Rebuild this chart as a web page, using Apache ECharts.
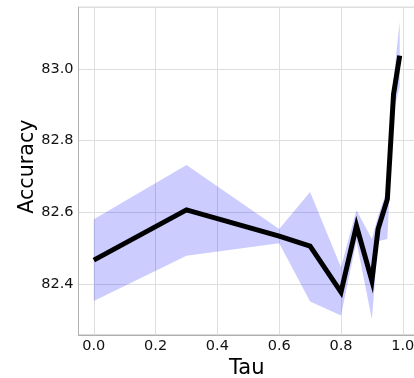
<!DOCTYPE html>
<html>
<head>
<meta charset="utf-8">
<script src="https://cdn.jsdelivr.net/npm/echarts@6/dist/echarts.min.js"></script>
<style>html,body{margin:0;padding:0;background:#fff;}#c{width:414px;height:378px;}</style>
</head>
<body>
<div id="c"></div>
<script>
const tau = [0.0, 0.3, 0.6, 0.7, 0.8, 0.85, 0.9, 0.92, 0.95, 0.97, 0.99];
const accMean = [82.467, 82.607, 82.534, 82.506, 82.378, 82.563, 82.41, 82.554, 82.637, 82.929, 83.037];
const accUpper = [82.581, 82.732, 82.554, 82.657, 82.447, 82.607, 82.526, 82.59, 82.665, 82.97, 83.132];
const accLower = [82.353, 82.479, 82.514, 82.352, 82.313, 82.52, 82.302, 82.52, 82.526, 82.88, 82.95];
const xTicks = [0.0, 0.2, 0.4, 0.6, 0.8, 1.0];
const yTicks = [82.4, 82.6, 82.8, 83.0];

const chart = echarts.init(document.getElementById('c'), null, {renderer: 'canvas'});
const font = 'DejaVu Sans';
const lineData = tau.map((t, i) => [t, accMean[i]]);

chart.setOption({
  animation: false,
  backgroundColor: '#fff',
  grid: {left: 78.5, top: 7.3, width: 336.5, height: 327.7, show: true, borderColor: '#b0b0b0', borderWidth: 1,
         containLabel: false, outerBoundsMode: 'none'},
  xAxis: {
    type: 'value', min: -0.0495, max: 1.0395,
    name: 'Tau', nameLocation: 'middle', nameGap: 23, nameMoveOverlap: false,
    nameTextStyle: {fontFamily: font, fontSize: 21, color: '#000', verticalAlign: 'top'},
    axisLine: {show: true, onZero: false, lineStyle: {color: '#b0b0b0', width: 1}},
    axisTick: {show: false},
    axisLabel: {
      fontFamily: font, fontSize: 14.5, color: '#111', margin: 4,
      showMinLabel: false, showMaxLabel: false,
      formatter: v => xTicks.some(t => Math.abs(t - v) < 1e-6) ? v.toFixed(1) : ''
    },
    splitLine: {show: true, lineStyle: {color: '#dedede', width: 1}}
  },
  yAxis: {
    type: 'value', min: 82.2585, max: 83.1715,
    name: 'Accuracy', nameLocation: 'middle', nameGap: 40.5, nameRotate: 90, nameMoveOverlap: false,
    nameTextStyle: {fontFamily: font, fontSize: 20.7, color: '#000', padding: [0, 0, 0, 9]},
    axisLine: {show: true, onZero: false, lineStyle: {color: '#b0b0b0', width: 1}},
    axisTick: {show: false},
    axisLabel: {
      fontFamily: font, fontSize: 14.5, color: '#111', margin: 5,
      showMinLabel: false, showMaxLabel: false,
      formatter: v => yTicks.some(t => Math.abs(t - v) < 1e-6) ? v.toFixed(1) : ''
    },
    splitLine: {show: true, lineStyle: {color: '#dedede', width: 1}}
  },
  series: [
    {
      type: 'custom',
      data: [[0, 0]],
      silent: true,
      z: 2,
      renderItem: function (params, api) {
        const pts = [];
        for (let i = 0; i < tau.length; i++) pts.push(api.coord([tau[i], accUpper[i]]));
        for (let i = tau.length - 1; i >= 0; i--) pts.push(api.coord([tau[i], accLower[i]]));
        return {type: 'polygon', shape: {points: pts}, style: {fill: 'rgba(0,0,255,0.2)', stroke: null}};
      }
    },
    {
      type: 'line',
      data: lineData,
      showSymbol: false,
      symbol: 'none',
      z: 3,
      lineStyle: {color: '#000', width: 5, join: 'miter'}
    }
  ]
});
</script>
</body>
</html>
